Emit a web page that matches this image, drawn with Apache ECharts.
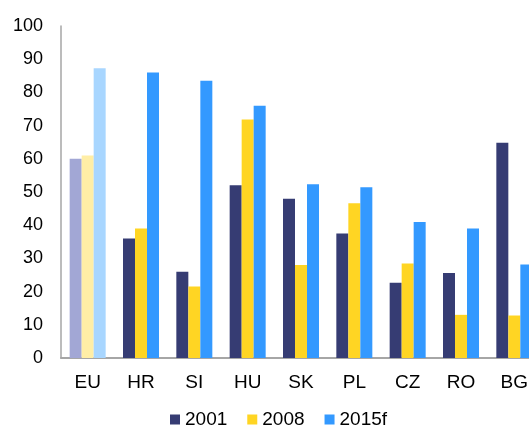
<!DOCTYPE html>
<html>
<head>
<meta charset="utf-8">
<script src="https://cdn.jsdelivr.net/npm/echarts@6/dist/echarts.min.js"></script>
<style>
  html, body { margin: 0; padding: 0; background: #fff; }
  #chart { width: 529px; height: 428px; }
</style>
</head>
<body>
<div id="chart"></div>
<script>
// categories and values
var countries = ['EU', 'HR', 'SI', 'HU', 'SK', 'PL', 'CZ', 'RO', 'BG']
var v2001 = [60, 36, 26, 52, 48, 37.5, 22.7, 25.6, 64.8]
var v2008 = [61, 39, 21.5, 71.8, 28, 46.6, 28.5, 13, 12.8]
var v2015 = [87.3, 86, 83.5, 76, 52.3, 51.4, 41, 39, 28.2]

var colors = ['#363C73', '#FFD523', '#3399FF']
var euColors = ['#A2A7D5', '#FFEEA6', '#A8D6FF']

// EU group is drawn in the lighter shade
function withEu(values, i) {
  return values.map(function (v, k) {
    if (k === 0) return { value: v, itemStyle: { color: euColors[i] } }
    return v
  })
}

var chart = echarts.init(document.getElementById('chart'))
var font = 'Liberation Sans, Arial, sans-serif'

chart.setOption({
  animation: false,
  color: colors,
  // plot runs past the right edge of the window, BG is cut off
  grid: { left: 61, width: 480, top: 26, bottom: 70, containLabel: false, outerBoundsMode: 'none' },
  legend: {
    top: 410,
    left: 170,
    padding: 0,
    itemWidth: 10,
    itemHeight: 10,
    itemGap: 20,
    icon: 'rect',
    textStyle: { fontFamily: font, fontSize: 19, color: '#000' },
    data: ['2001', '2008', '2015f']
  },
  xAxis: {
    type: 'category',
    data: countries,
    axisLine: { lineStyle: { color: '#A6A6A6', width: 2 } },
    axisTick: { show: false },
    axisLabel: { fontFamily: font, fontSize: 19, color: '#000', margin: 15 }
  },
  yAxis: {
    type: 'value',
    min: 0,
    max: 100,
    interval: 10,
    axisLine: { show: true, lineStyle: { color: '#A6A6A6', width: 1.5 } },
    axisTick: { show: false },
    splitLine: { show: false },
    axisLabel: { fontFamily: font, fontSize: 18, color: '#000', margin: 18 }
  },
  series: [
    { name: '2001', type: 'bar', barGap: '0%', barCategoryGap: '32.5%', data: withEu(v2001, 0) },
    { name: '2008', type: 'bar', barGap: '0%', barCategoryGap: '32.5%', data: withEu(v2008, 1) },
    { name: '2015f', type: 'bar', barGap: '0%', barCategoryGap: '32.5%', data: withEu(v2015, 2) }
  ]
})
</script>
</body>
</html>
